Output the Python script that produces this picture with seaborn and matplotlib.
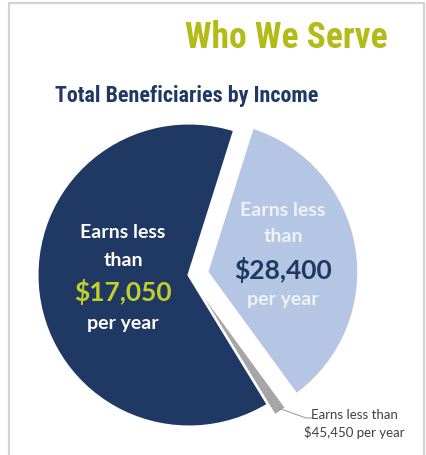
import matplotlib
matplotlib.use("Agg")
import math
import matplotlib.pyplot as plt
from matplotlib import font_manager
from matplotlib.lines import Line2D
import seaborn as sns

# Share of beneficiaries per income bracket (percent)
brackets = ["Earns less than $17,050", "Earns less than $45,450", "Earns less than $28,400"]
shares = [63.6, 1.3, 35.1]
slice_colors = ["#1f3864", "#a6a6a6", "#b4c6e3"]
slice_offsets = [0, 12, 18]

title = "Who We Serve"
subtitle = "Total Beneficiaries by Income"
big_label = ["Earns less", "than", "$17,050", "per year"]
mid_label = ["Earns less", "than", "$28,400", "per year"]
small_label = ["Earns less than", "$45,450 per year"]

sns.set_theme(style="white")
plt.rcParams["font.family"] = ["Lato", "DejaVu Sans"]


def pick_condensed():
    """Find a narrow bold face for the headings, falling back gracefully."""
    entries = font_manager.fontManager.ttflist
    names = {f.name for f in entries}
    for fam in ["Roboto Condensed", "Liberation Sans Narrow", "Open Sans Condensed",
                "Noto Sans Condensed", "DejaVu Sans Condensed"]:
        if fam in names:
            return dict(family=[fam, "DejaVu Sans"])
    for fam in ["DejaVu Sans", "Noto Sans", "Open Sans", "Roboto"]:
        if any(f.name == fam and f.stretch in ("condensed", "semi-condensed",
                                                 "extra-condensed")
               for f in entries):
            return dict(family=[fam, "DejaVu Sans"], fontstretch="condensed")
    return dict(family=["Roboto", "DejaVu Sans"])


head_font = pick_condensed()

W, H = 427, 456
fig = plt.figure(figsize=(W / 100, H / 100), dpi=100)
fig.patch.set_facecolor("white")
ax = fig.add_axes([0, 0, 1, 1])

wedges, _ = ax.pie(
    shares,
    colors=slice_colors,
    explode=slice_offsets,
    startangle=72.5,
    counterclock=True,
    center=(189, 180),
    radius=152,
    wedgeprops=dict(edgecolor="white", linewidth=2.2),
)
# keep the thin slice visible with a finer outline
wedges[1].set_linewidth(0.9)
ax.set_xlim(0, W)
ax.set_ylim(0, H)
ax.set_aspect("equal")
ax.axis("off")

# frame around the panel (open at the bottom)
frame_kw = dict(color="#d3d3d3", lw=1.6, solid_capstyle="butt")
ax.add_line(Line2D([9, 9, 424, 424], [0, 452, 452, 0], **frame_kw))

t_title = ax.text(286, 418, title, ha="center", va="center", fontsize=27,
                  fontweight="bold", color="#b3bb17", **head_font)
t_sub = ax.text(55, 360, subtitle, ha="left", va="center", fontsize=17.5,
                fontweight="bold", color="#1f3864", **head_font)

# size the headings to their intended widths
fig.canvas.draw()
renderer = fig.canvas.get_renderer()
for t, width in [(t_title, 203), (t_sub, 263)]:
    bb = t.get_window_extent(renderer)
    t.set_fontsize(t.get_fontsize() * width / bb.width)

# labels inside the large dark slice
for txt, y, size, col in zip(big_label, [223, 196, 164, 133],
                             [14, 14, 19, 14],
                             ["white", "white", "#c3cf2b", "white"]):
    ax.text(123, y, txt, ha="center", va="center", fontsize=size,
            fontweight="bold", color=col)

# labels inside the light slice
for txt, y, size, col in zip(mid_label, [245, 219, 186, 156],
                             [14, 14, 19, 14],
                             ["#eef2f9", "#eef2f9", "#1f3864", "#eef2f9"]):
    ax.text(283, y, txt, ha="center", va="center", fontsize=size,
            fontweight="bold", color=col)

# leader line from the thin slice to its note
w = wedges[1]
mid = math.radians((w.theta1 + w.theta2) / 2)
sx = w.center[0] + (w.r - 4) * math.cos(mid)
sy = w.center[1] + (w.r - 4) * math.sin(mid)
ax.add_line(Line2D([sx, 306, 312], [sy, 37, 37], color="#a0a0a0", lw=0.8))
ax.text(354, 41, small_label[0], ha="center", va="center", fontsize=9.5,
        color="#404040")
ax.text(354, 23, small_label[1], ha="center", va="center", fontsize=9.5,
        color="#404040")

fig.savefig("out.png", dpi=100, facecolor="white")
